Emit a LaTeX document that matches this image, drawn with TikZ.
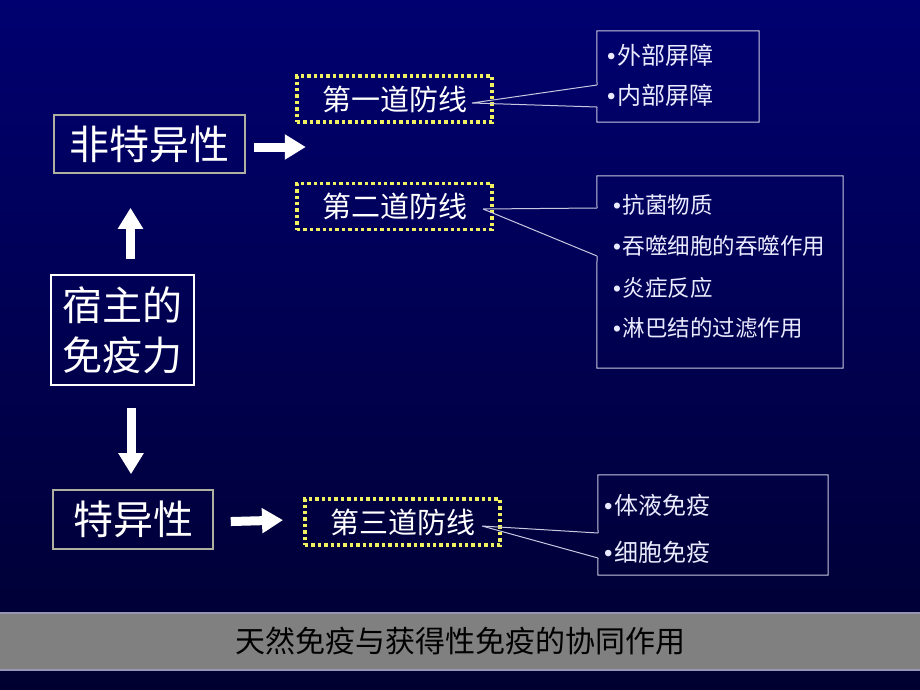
\documentclass[tikz,border=0pt]{standalone}
\usepackage{fontspec}
\setmainfont{Noto Sans CJK SC}
\newfontfamily\dotfont{Liberation Sans}
\usetikzlibrary{arrows.meta}

\definecolor{navytop}{RGB}{0,0,112}
\definecolor{navybot}{RGB}{0,0,48}
\definecolor{dotyellow}{RGB}{240,240,96}
\definecolor{boxgray}{RGB}{176,176,160}
\definecolor{itemgray}{RGB}{200,200,224}
\definecolor{bargray}{RGB}{128,128,128}
\definecolor{baredge}{RGB}{150,150,180}

\tikzset{
  bigbox/.style={draw=boxgray, line width=1.6pt, text=white, inner sep=0pt,
    font=\fontsize{40}{50}\selectfont},
  linebox/.style={draw=dotyellow, line width=3.6pt, dash pattern=on 3.4pt off 3pt,
    text=white, inner sep=0pt, minimum width=195pt, minimum height=46pt,
    font=\fontsize{29}{34}\selectfont},
  itemline/.style={itemgray, line width=1pt},
  itemtext/.style={text=white!92!blue, anchor=west, inner sep=0pt,
    font=\fontsize{24}{30}\selectfont},
  blockarrow/.style={white, line width=9pt, -{Triangle[width=24pt,length=21pt]}}
}
\newcommand{\itm}{{\dotfont\textbullet}\kern1.5pt}

\begin{document}
\begin{tikzpicture}[x=1pt, y=-1pt]
\useasboundingbox (0,0) rectangle (920,690);
\shade[top color=navytop, bottom color=navybot] (0,0) rectangle (920,690);

% left column
\node[bigbox, minimum width=191pt, minimum height=58pt] (nonspec) at (149.5,144) {非特异性};
\node[bigbox, draw=white, minimum width=143pt, minimum height=110pt, align=center] (host) at (122.5,330) {宿主的\\免疫力};
\node[bigbox, minimum width=160pt, minimum height=59pt] (spec) at (133,519.5) {特异性};

\draw[blockarrow, shorten <=15pt, shorten >=34pt] ([xshift=8pt]host.north) -- ([xshift=-19pt]nonspec.south);
\draw[blockarrow, shorten <=22pt, shorten >=15pt] ([xshift=8.5pt]host.south) -- ([xshift=-2pt]spec.north);
\draw[blockarrow] ([xshift=8pt, yshift=-3pt]nonspec.east) -- ++(52,0);
\draw[blockarrow, shorten <=17pt, shorten >=22pt] ([yshift=-2.5pt]spec.east) -- (spec.east -| 305,0);

% lines of defence
\node[linebox] (l1) at (394.5,99) {第一道防线};
\node[linebox] (l2) at (394.5,206.5) {第二道防线};
\node[linebox] (l3) at (402.5,522) {第三道防线};

% item boxes
\node[minimum width=162pt, minimum height=91pt] (bx1) at (678,76.5) {};
\node[minimum width=246pt, minimum height=192pt] (bx2) at (720,272) {};
\node[minimum width=230pt, minimum height=100pt] (bx3) at (713,525) {};

\coordinate (e1) at (472,103);
\coordinate (e2) at (483,209);
\coordinate (e3) at (482,526);
\coordinate (c1a) at (597,85);  \coordinate (c1b) at (597,107);
\coordinate (c2a) at (597,208); \coordinate (c2b) at (597,256);
\coordinate (c3a) at (598,533); \coordinate (c3b) at (598,558);

\draw[itemline] (c1a) -- (bx1.north west) -- (bx1.north east) -- (bx1.south east) -- (bx1.south west) -- (c1b);
\draw[itemline] (c2a) -- (bx2.north west) -- (bx2.north east) -- (bx2.south east) -- (bx2.south west) -- (c2b);
\draw[itemline] (c3a) -- (bx3.north west) -- (bx3.north east) -- (bx3.south east) -- (bx3.south west) -- (c3b);
\draw[itemline] (e1) -- (c1a) (e1) -- (c1b);
\draw[itemline] (e2) -- (c2a) (e2) -- (c2b);
\draw[itemline] (e3) -- (c3a) (e3) -- (c3b);

\node[itemtext] (i11) at (607,55) {\itm 外部屏障};
\node[itemtext] (i12) at (607,95) {\itm 内部屏障};
\node[itemtext, font=\fontsize{22.5}{28}\selectfont] (i21) at (613,205) {\itm 抗菌物质};
\node[itemtext, font=\fontsize{22.5}{28}\selectfont] (i22) at (613,246) {\itm 吞噬细胞的吞噬作用};
\node[itemtext, font=\fontsize{22.5}{28}\selectfont] (i23) at (613,288) {\itm 炎症反应};
\node[itemtext, font=\fontsize{22.5}{28}\selectfont] (i24) at (613,328) {\itm 淋巴结的过滤作用};
\node[itemtext] (i31) at (604,505) {\itm 体液免疫};
\node[itemtext] (i32) at (604,552) {\itm 细胞免疫};

% caption bar
\draw[fill=bargray, draw=baredge, line width=1.2pt] (-2,613) rectangle (922,670);
\node[text=black, font=\fontsize{30}{36}\selectfont] (cap) at (460,641.5) {天然免疫与获得性免疫的协同作用};
\end{tikzpicture}
\end{document}
